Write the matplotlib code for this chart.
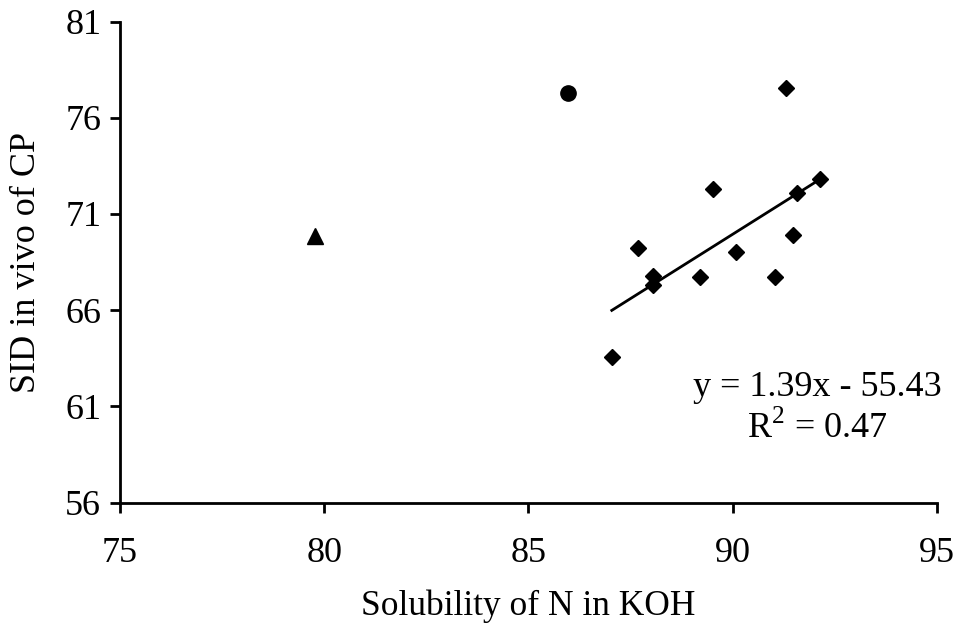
import matplotlib
matplotlib.use('Agg')
import matplotlib.pyplot as plt

# diamonds (main group)
sol_x = [91.30, 89.51, 92.15, 91.58, 87.69, 91.48, 90.09, 88.06, 88.06, 89.21, 91.03, 87.04]
sid_y = [77.57, 72.30, 72.82, 72.10, 69.24, 69.93, 69.03, 67.76, 67.33, 67.73, 67.73, 63.57]
# the two separate samples
circle_x, circle_y = [85.97], [77.31]
tri_x, tri_y = [79.77], [69.83]

# linear trend line (endpoints as drawn in the figure)
trend_x = [87.04, 92.15]
trend_y = [65.99, 72.82]
eq_text = 'y = 1.39x - 55.43'
r2_text = 'R$^2$ = 0.47'

plt.rcParams['font.family'] = ['Liberation Serif', 'DejaVu Serif']
plt.rcParams['mathtext.fontset'] = 'custom'
plt.rcParams['mathtext.rm'] = 'Liberation Serif'

fig = plt.figure(figsize=(9.57, 6.27), dpi=100)
ax = fig.add_axes([0.1254, 0.1984, 0.8536, 0.7672])

ax.plot(trend_x, trend_y, color='black', lw=2)
ax.plot(sol_x, sid_y, 'D', color='black', ms=8.5, ls='none')
ax.plot(circle_x, circle_y, 'o', color='black', ms=11, ls='none')
ax.plot(tri_x, tri_y, '^', color='black', ms=11, ls='none')

ax.set_xlim(75, 95)
ax.set_ylim(56, 81)
ax.set_xticks([75, 80, 85, 90, 95])
ax.set_yticks([56, 61, 66, 71, 76, 81])
for s in ['top', 'right']:
    ax.spines[s].set_visible(False)
for s in ['left', 'bottom']:
    ax.spines[s].set_linewidth(2)
ax.tick_params(direction='out', length=7.5, width=2, labelsize=26)
ax.tick_params(axis='y', pad=6)
ax.tick_params(axis='x', pad=17)

ax.set_xlabel('Solubility of N in KOH', fontsize=25.5, labelpad=14)
ax.set_ylabel('SID in vivo of CP', fontsize=26, labelpad=16)

ax.text(0.8537, 0.2216, eq_text, transform=ax.transAxes,
        fontsize=26, ha='center', va='baseline')
ax.text(0.8537, 0.134, r2_text, transform=ax.transAxes,
        fontsize=26, ha='center', va='baseline')

fig.savefig('out.png', dpi=100)
